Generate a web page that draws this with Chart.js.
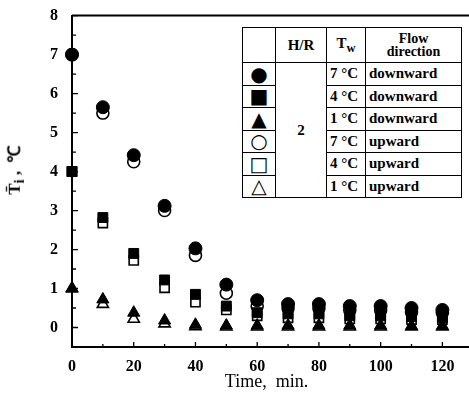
<!DOCTYPE html>
<html>
<head>
<meta charset="UTF-8">
<title>Mean temperature vs time</title>
<script src="https://cdn.jsdelivr.net/npm/chart.js"></script>
<style>
  body { margin: 0; background: #fff; }
  #wrap { position: relative; width: 469px; height: 397px; }
  #ytitle {
    position: absolute; left: 15px; top: 170px;
    transform: translate(-50%, -50%) rotate(-90deg);
    font: bold 17px "Liberation Serif", serif; white-space: nowrap;
  }
  table.key {
    position: absolute; left: 242px; top: 27px;
    border-collapse: collapse; background: #fff;
    font: bold 15px "Liberation Serif", serif;
  }
  table.key td { border: 1.5px solid #000; padding: 0 3px; height: 21.5px; }
  table.key td.sym { width: 26px; text-align: center; font: 20px "DejaVu Sans", sans-serif; line-height: 18px; }
  table.key td.hr { width: 44px; text-align: center; }
  table.key td.tw { width: 32px; }
  table.key td.dir { width: 89px; }
  table.key tr.head td { height: 34px; text-align: center; }
  table.key tr.head td.dir { font-size: 14px; line-height: 13px; }
</style>
</head>
<body>
<div id="wrap">
  <canvas id="chart" width="469" height="397"></canvas>
  <div id="ytitle">T&#772;<sub>i</sub> ,&nbsp; &#8451;</div>
  <table class="key" id="key">
    <tr class="head"><td class="sym"></td><td class="hr">H/R</td><td class="tw">T<sub>w</sub></td><td class="dir">Flow<br>direction</td></tr>
  </table>
</div>
<script>
// time in minutes
const times = [0, 10, 20, 30, 40, 50, 60, 70, 80, 90, 100, 110, 120];

// mean temperature readings, degC
const down7 = [7.0, 5.65, 4.42, 3.12, 2.03, 1.1, 0.7, 0.6, 0.6, 0.55, 0.55, 0.5, 0.45];
const down4 = [4.0, 2.82, 1.9, 1.22, 0.85, 0.55, 0.38, 0.35, 0.35, 0.3, 0.3, 0.28, 0.25];
const down1 = [1.0, 0.72, 0.38, 0.18, 0.07, 0.05, 0.05, 0.05, 0.05, 0.05, 0.05, 0.04, 0.04];
const up7 = [7.0, 5.5, 4.25, 3.0, 1.85, 0.88, 0.55, 0.5, 0.5, 0.45, 0.45, 0.4, 0.38];
const up4 = [4.0, 2.68, 1.72, 1.02, 0.65, 0.45, 0.3, 0.25, 0.25, 0.22, 0.22, 0.2, 0.2];
const up1 = [1.0, 0.6, 0.22, 0.1, 0.03, 0.02, 0.02, 0.02, 0.02, 0.02, 0.02, 0.02, 0.02];

const series = [
  { label: '7°C downward', temp: '7', dir: 'downward', data: down7, style: 'circle', r: 6.5, filled: true, sym: '\u25CF' },
  { label: '4°C downward', temp: '4', dir: 'downward', data: down4, style: 'rect', r: 7, filled: true, sym: '\u25A0' },
  { label: '1°C downward', temp: '1', dir: 'downward', data: down1, style: 'triangle', r: 7, filled: true, sym: '\u25B2' },
  { label: '7°C upward', temp: '7', dir: 'upward', data: up7, style: 'circle', r: 6, filled: false, sym: '\u25CB' },
  { label: '4°C upward', temp: '4', dir: 'upward', data: up4, style: 'rect', r: 6.5, filled: false, sym: '\u25A1' },
  { label: '1°C upward', temp: '1', dir: 'upward', data: up1, style: 'triangle', r: 6.5, filled: false, sym: '\u25B3' }
];

const hrValue = '2';
const xTicks = [0, 20, 40, 60, 80, 100, 120];
const yTicks = [0, 1, 2, 3, 4, 5, 6, 7, 8];

// key table
const key = document.getElementById('key');
series.forEach((s, i) => {
  const tr = document.createElement('tr');
  let html = '<td class="sym">' + s.sym + '</td>';
  if (i === 0) html += '<td class="hr" rowspan="' + series.length + '">' + hrValue + '</td>';
  html += '<td class="tw">' + s.temp + ' °C</td><td class="dir">' + s.dir + '</td>';
  tr.innerHTML = html;
  key.appendChild(tr);
});

// frame lines running to the page edge, plus inward ticks
const frame = {
  id: 'frame',
  afterDraw(chart) {
    const { ctx, chartArea: a, scales: { x, y } } = chart;
    ctx.save();
    ctx.strokeStyle = '#000';
    ctx.lineWidth = 2;
    ctx.beginPath();
    ctx.moveTo(a.left, a.top);
    ctx.lineTo(chart.width, a.top);
    ctx.moveTo(a.left - 1, a.bottom);
    ctx.lineTo(chart.width, a.bottom);
    ctx.stroke();
    ctx.lineWidth = 1.3;
    ctx.beginPath();
    for (let v = 0; v <= 8; v += 0.5) {
      const py = y.getPixelForValue(v);
      const len = Number.isInteger(v) ? 6 : 4;
      ctx.moveTo(a.left, py);
      ctx.lineTo(a.left + len, py);
    }
    for (let v = 10; v <= 120; v += 10) {
      const px = x.getPixelForValue(v);
      const len = v % 20 === 0 ? 5 : 3;
      ctx.moveTo(px, a.bottom);
      ctx.lineTo(px, a.bottom - len);
    }
    ctx.stroke();
    ctx.restore();
  }
};

const tickFont = { family: '"Liberation Serif", serif', size: 16, weight: 'bold' };

new Chart(document.getElementById('chart'), {
  type: 'scatter',
  data: {
    datasets: series.map(s => ({
      label: s.label,
      data: times.map((t, i) => ({ x: t, y: s.data[i] })),
      pointStyle: s.style,
      pointRadius: s.r,
      pointHoverRadius: s.r,
      backgroundColor: s.filled ? '#000' : '#fff',
      borderColor: '#000',
      borderWidth: s.filled ? 1 : 1.6,
      clip: false
    }))
  },
  options: {
    responsive: false,
    animation: false,
    layout: { padding: { top: 10, right: 1, left: 0, bottom: 0 } },
    plugins: { legend: { display: false }, tooltip: { enabled: false } },
    scales: {
      x: {
        type: 'linear', min: 0, max: 126,
        afterBuildTicks: sc => { sc.ticks = xTicks.map(v => ({ value: v })); },
        afterFit: sc => { sc.height = 50; },
        grid: { display: false },
        border: { display: false },
        ticks: { color: '#000', font: tickFont, padding: 2, maxRotation: 0 },
        title: { display: true, text: 'Time,  min.', color: '#000', padding: { top: 0 },
                 font: { family: '"Liberation Serif", serif', size: 18 } }
      },
      y: {
        type: 'linear', min: -0.5, max: 8,
        afterBuildTicks: sc => { sc.ticks = yTicks.map(v => ({ value: v })); },
        afterFit: sc => { sc.width = 72; },
        grid: { display: false },
        border: { display: true, color: '#000', width: 2 },
        ticks: { color: '#000', font: tickFont, padding: 6 }
      }
    }
  },
  plugins: [frame]
});
</script>
</body>
</html>
